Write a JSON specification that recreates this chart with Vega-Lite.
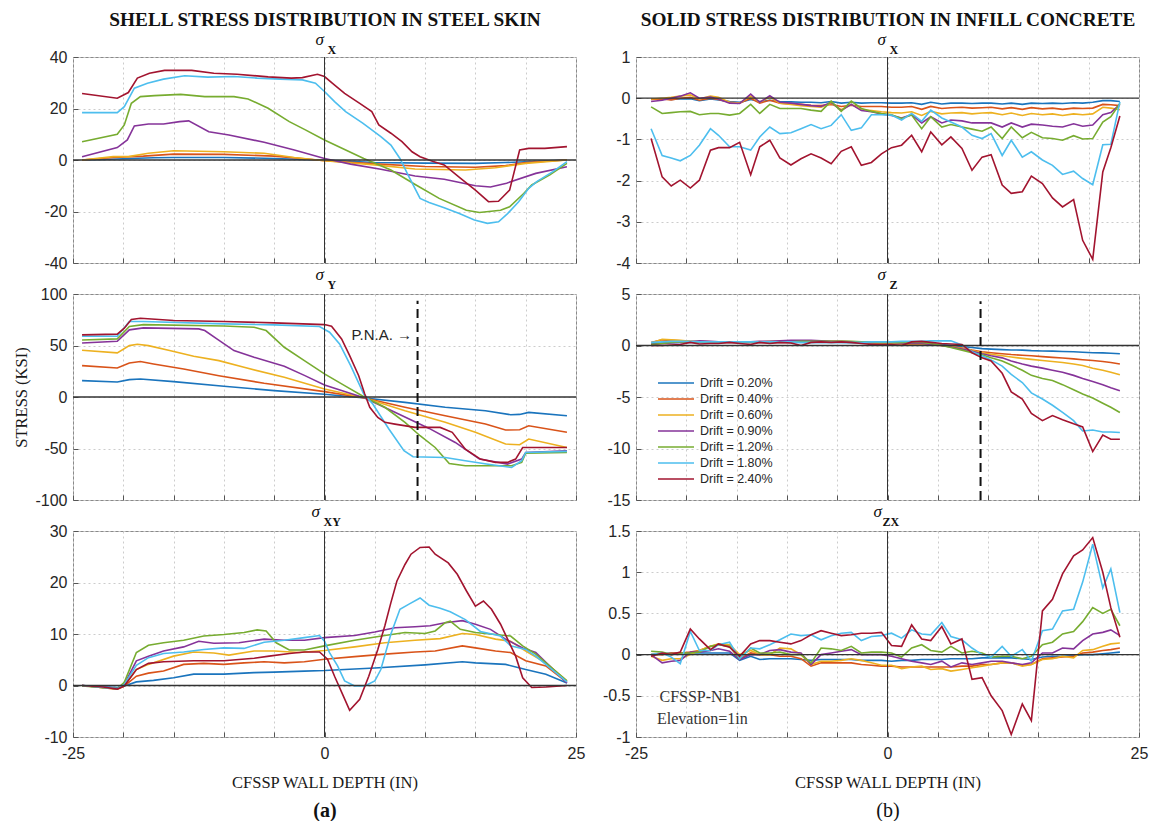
{
"$schema": "https://vega.github.io/schema/vega-lite/v6.json",
"padding": {"left": 13, "top": 9, "right": 2, "bottom": 0},
"background": "white",
"columns": 2,
"spacing": {"row": 31, "column": 60},
"bounds": "flush",
"resolve": {"scale": {"color": "independent"}, "legend": {"color": "independent"}},
"datasets": {
"lsx": [
{"s":"Drift = 0.20%","x":[-24.1,-22,-20,-17,-15,-10,-5,-2,0,3,5,10,15,18,21,24.1],"y":[0,0.2,0.5,0.9,1,1,0.6,0.2,0,-0.6,-1,-1.2,-1.3,-1,-0.5,0]},
{"s":"Drift = 0.40%","x":[-24.1,-21,-18,-15,-10,-5,-2,0,3,5,10,15,18,20,24.1],"y":[0,1,1.5,2.3,2.2,1.5,0.5,-0.3,-1,-1.5,-2.5,-2.8,-2.2,-1,0]},
{"s":"Drift = 0.60%","x":[-24.1,-21,-19.5,-17.5,-15,-10,-6,-3,0,5,9,14,17,20,24.1],"y":[0,1.3,1.3,2.6,3.6,3.2,2.6,1,-0.3,-1.9,-3.5,-3.9,-3,-1.3,0]},
{"s":"Drift = 0.90%","x":[-24.1,-20.6,-19.6,-18.9,-17.5,-16,-14.4,-13.5,-11.5,-9.5,-6,-3,0,2.6,5.6,9,11.9,15,16.5,18.1,21,24.1],"y":[1.3,4.8,7.8,13.2,14,14,14.9,15.2,11,9.7,6.9,3.9,0.6,-1.6,-3.6,-6.2,-7.5,-10,-10.5,-9,-5.2,-2.6]},
{"s":"Drift = 1.20%","x":[-24.1,-20.6,-19.9,-19.2,-18.3,-16.9,-14.3,-11.9,-9,-7.6,-5.6,-3.5,-1.9,0,3.9,6.6,9.1,11.4,14.1,15.4,17.5,18.4,19.8,20.6,22.4,24.1],"y":[7.1,10,13.6,22,24.6,25,25.5,24.6,24.6,23.7,20.1,14.9,11.7,7.8,0.6,-3.9,-9.7,-14.9,-19.5,-20.4,-19.5,-18.2,-13,-9.7,-5.8,-1.3]},
{"s":"Drift = 1.80%","x":[-24.1,-20.6,-19.9,-18.9,-17.6,-16,-13.9,-11.6,-9,-6.7,-4.4,-2.2,-0.9,0,1,2.1,3.8,5.6,6.6,7.5,8.3,9.5,10.4,11.9,13.4,14.9,16.2,17.3,18.2,19.3,20.3,21.1,22.7,24.1],"y":[18.4,18.4,20.7,27.9,29.8,31.4,32.7,32.2,32.4,31.8,31.4,31.1,29.8,26.6,22.7,18.8,14.3,9.1,5.8,0.6,-5.8,-14.9,-16.5,-18.5,-20.8,-23.3,-24.6,-24,-20.8,-16.2,-11,-8.4,-4.5,-0.6]},
{"s":"Drift = 2.40%","x":[-24.1,-20.6,-19.5,-18.6,-17.4,-15.9,-13.2,-11,-8.7,-5.6,-3.3,-2.2,-0.7,0,0.8,2,3.5,4.7,5.4,6.6,7.7,8.7,9.5,10.8,11.9,13.5,15,16.3,17.3,18.4,19.4,20.3,21.9,24.1],"y":[25.8,24,26.2,31.8,33.7,34.8,34.8,33.7,33.3,32.3,31.8,32,33.3,32.4,29.8,25.9,22,18.8,13.6,10.4,7.1,3.2,1.3,-0.6,-1.9,-7,-11.7,-16.2,-16,-11.7,3.9,4.5,4.5,5.2]}
],
"lsy": [
{"s":"Drift = 0.20%","x":[-24.1,-20.6,-19.4,-18.3,-15,-10,-5,0,4,8,12,16,18.5,19.4,20.3,24.1],"y":[15.9,14.6,16.9,17.5,14.9,10.4,6.2,2.6,-1,-5.2,-10,-13.3,-17.2,-16.9,-14.9,-18.2]},
{"s":"Drift = 0.40%","x":[-24.1,-20.6,-19.4,-18.3,-17,-14,-10.5,-6,0,4,8,12,16,18,19.4,20.3,24.1],"y":[30.5,28.2,33,34.4,32.1,27.2,20.7,13.3,5.2,-1,-10,-18.2,-26.3,-32.1,-31.8,-27.9,-34.3]},
{"s":"Drift = 0.60%","x":[-24.1,-20.6,-19.4,-18.6,-17.5,-15.4,-13,-10.5,-8,-4,0,4,8,12,15,18,19.4,20.3,24.1],"y":[45.4,42.8,49.9,51.2,49.9,45.1,39.5,35.3,28.8,19.1,7.8,-1,-13.3,-24.6,-34.3,-45.7,-46.3,-40.8,-49]},
{"s":"Drift = 0.90%","x":[-24.1,-20.6,-19.4,-18,-12.5,-11.9,-10.7,-9,-7,-4,-2,0,4,7,10.4,13,15.4,18.2,19.6,20,24.1],"y":[52.5,54.1,65.2,67.1,66.1,64.5,56.4,45.1,38.6,29.8,21,11.7,-1,-14.9,-30.5,-44.1,-60.3,-65.1,-60.3,-53.8,-52.2]},
{"s":"Drift = 1.20%","x":[-24.1,-20.6,-19.4,-18,-10,-7,-5.8,-4,-2,0,2,4,6,8,9.5,11,12.4,14,18.6,19.6,20,24.1],"y":[55.4,56.4,68.4,70.3,69,67.7,64.5,48.3,35.3,22.4,11,-0.3,-10,-24.6,-37.6,-49,-64.5,-66.8,-66.8,-63.5,-54.5,-53.8]},
{"s":"Drift = 1.80%","x":[-24.1,-20.6,-19.4,-18,-10,-5,-0.5,0.5,1.5,2.6,3.9,4.8,6.4,7.9,8.8,12,14,16.1,18.6,19.6,20,24.1],"y":[59,59,73.3,73.3,71,70,68.4,62.9,51.5,30.5,2.9,-6.8,-31.1,-52.2,-58,-58.7,-61.9,-65.1,-68.4,-61.9,-53.8,-52.8]},
{"s":"Drift = 2.40%","x":[-24.1,-20.6,-19.9,-19.2,-18.3,-15,-10,-5,0,0.7,1.7,2.5,3.4,4,4.5,5.3,6,7,9,11.5,12.7,14,15.5,17,18.2,19,19.7,24.1],"y":[60.3,61,66.8,75.2,76.5,74.2,73.3,72,70.3,68.7,56.4,40.2,20.7,2.9,-10,-19.8,-24.6,-26.3,-29.5,-29.5,-34.3,-50.6,-60.3,-63.5,-63.5,-60.3,-49,-49]}
],
"lsxy": [
{"s":"Drift = 0.20%","x":[-24.1,-20.6,-19.9,-18.7,-17,-15,-13,-10,-7,-5,-2,0,5,10,13.7,15,18,20,22,24.1],"y":[0,-0.4,-0.1,0.7,1,1.5,2.2,2.2,2.5,2.6,2.8,2.9,3.4,4,4.6,4.4,4.1,3.1,2.2,0.5]},
{"s":"Drift = 0.40%","x":[-24.1,-20.6,-19.9,-18.7,-17.5,-16,-14,-12,-10,-8,-6,-4,-2,0,3,6,9,11,13.7,15,17,18.5,20,22,24.1],"y":[0,-0.7,-0.1,1.8,2.4,2.8,4.1,4.3,4.1,4.4,4.6,4.4,4.6,5.1,5.6,6.1,6.5,6.7,7.7,7.3,6.7,6.4,4.8,3.8,0.6]},
{"s":"Drift = 0.60%","x":[-24.1,-20.6,-19.9,-18.7,-17.5,-15,-13,-11,-9.5,-7,-5,-2.5,0,3,6,9,11.5,13.7,15,17,18.5,20,22,24.1],"y":[0,-0.7,0,3.1,4.1,5.7,6.5,6.3,5.9,6.7,6.7,6.4,6.8,7.5,8.3,8.8,9.1,10.1,9.9,9,8.6,6.7,4.4,0.9]},
{"s":"Drift = 0.90%","x":[-24.1,-20.6,-19.9,-18.7,-17.5,-16,-14,-12.5,-11,-8.5,-6,-4,-2,0,3,5,7,9,10.5,12,13.7,15,16.5,18,19.7,21,24.1],"y":[0,-0.6,0.2,4.8,5.7,6.7,7.5,8.6,8.2,8.3,9,8.8,8.8,9.3,9.7,10.4,11.2,11.4,11.6,12.2,12.6,11.9,10.9,9,7.3,6.4,0.5]},
{"s":"Drift = 1.20%","x":[-24.1,-20.6,-19.9,-18.7,-17.5,-16,-14,-12,-10,-8,-6.7,-5.8,-4.8,-3.5,-2,0,3,6,8,10,11,12,12.5,13.5,15,17,18.5,19.7,21,24.1],"y":[-0.1,-0.6,0.6,6.4,7.8,8.3,8.8,9.6,9.9,10.3,10.8,10.6,8.3,6.9,6.9,7.7,8.8,9.7,10.3,10.1,10.6,12.2,12.5,10.9,10.3,9.9,9.6,7.7,6.1,0.9]},
{"s":"Drift = 1.80%","x":[-24.1,-20.6,-19.9,-18.7,-17.5,-16,-14,-12,-10,-8,-6,-4,-2,-0.5,0,0.5,1.3,2,3,4,5,5.6,6.6,7.5,8.4,9.5,10.4,11.5,12.5,14,15.5,17.5,18.5,20,21,24.1],"y":[0,-0.6,0.2,3.9,5.4,6.2,6.5,7,7.3,7.2,8.4,8.8,9.3,9.7,8.6,6.4,3.8,0.9,-0.1,-0.1,0.9,3.1,10,14.8,15.8,17,15.6,15,14.3,12.8,10.5,9.6,7.7,7,5.7,0.7]},
{"s":"Drift = 2.40%","x":[-24.1,-22,-20.6,-19.9,-18.7,-17.5,-16,-13,-10,-7,-5.5,-3.5,-2,-0.5,0.3,1,1.7,2.5,3.5,4.4,5.3,6,6.6,7.2,8,8.6,9.5,10.4,11,12.3,13.2,14.1,15,15.8,16.6,17.5,18.2,19,19.7,20.6,22,24.1],"y":[0,-0.3,-0.7,-0.1,3.1,4.3,4.6,4.8,4.8,5.3,5.7,6.2,6.5,6.5,5.1,1.8,-1.3,-4.8,-2.7,1.8,7,11.6,16.1,20.3,23.5,25.5,26.8,26.9,25.5,23.8,21.6,18.4,15.4,16.4,14.8,11.9,9,5.7,1.5,-0.4,-0.3,0]}
],
"rsx": [
{"s":"Drift = 0.20%","x":[-23.5,-22.4,-21.5,-20.6,-19.6,-18.7,-17.6,-16.8,-15.7,-14.7,-13.6,-12.7,-11.7,-10.7,-9.6,-8.6,-7.6,-6.6,-5.6,-4.6,-3.6,-2.6,-1.6,-0.6,0.4,1.4,2.4,3.4,4.3,5.4,6.3,7.4,8.4,9.4,10.3,11.4,12.3,13.4,14.3,15.4,16.4,17.4,18.5,19.4,20.4,21.4,22.2,23.1],"y":[-0.02,-0.01,-0.03,-0.02,-0.01,-0.06,-0.02,-0.04,-0.08,-0.1,-0.03,-0.08,-0.05,-0.08,-0.09,-0.1,-0.1,-0.11,-0.08,-0.12,-0.1,-0.12,-0.11,-0.11,-0.12,-0.12,-0.11,-0.15,-0.1,-0.14,-0.12,-0.12,-0.13,-0.12,-0.12,-0.14,-0.12,-0.15,-0.12,-0.13,-0.12,-0.13,-0.11,-0.12,-0.1,-0.06,-0.06,-0.08]},
{"s":"Drift = 0.40%","x":[-23.5,-22.4,-21.5,-20.6,-19.6,-18.7,-17.6,-16.8,-15.7,-14.7,-13.6,-12.7,-11.7,-10.7,-9.6,-8.6,-7.6,-6.6,-5.6,-4.6,-3.6,-2.6,-1.6,-0.6,0.4,1.4,2.4,3.4,4.3,5.4,6.3,7.4,8.4,9.4,10.3,11.4,12.3,13.4,14.3,15.4,16.4,17.4,18.5,19.4,20.4,21.4,22.2,23.1],"y":[-0.03,-0.02,-0.04,0,0.02,-0.05,0,-0.03,-0.1,-0.12,0,-0.12,-0.05,-0.12,-0.14,-0.15,-0.17,-0.18,-0.15,-0.2,-0.17,-0.2,-0.2,-0.2,-0.22,-0.22,-0.2,-0.27,-0.2,-0.25,-0.23,-0.22,-0.24,-0.23,-0.22,-0.26,-0.23,-0.27,-0.23,-0.26,-0.24,-0.27,-0.24,-0.25,-0.24,-0.15,-0.16,-0.18]},
{"s":"Drift = 0.60%","x":[-23.5,-22.4,-21.5,-20.6,-19.6,-18.7,-17.6,-16.8,-15.7,-14.7,-13.6,-12.7,-11.7,-10.7,-9.6,-8.6,-7.6,-6.6,-5.6,-4.6,-3.6,-2.6,-1.6,-0.6,0.4,1.4,2.4,3.4,4.3,5.4,6.3,7.4,8.4,9.4,10.3,11.4,12.3,13.4,14.3,15.4,16.4,17.4,18.5,19.4,20.4,21.4,22.2,23.1],"y":[-0.02,0,0.02,0.05,0.08,-0.02,0.05,0.02,-0.1,-0.12,0.05,-0.1,0.03,-0.12,-0.15,-0.18,-0.2,-0.22,-0.12,-0.28,-0.15,-0.28,-0.3,-0.33,-0.35,-0.36,-0.33,-0.42,-0.32,-0.38,-0.36,-0.35,-0.38,-0.36,-0.35,-0.4,-0.36,-0.42,-0.37,-0.4,-0.38,-0.42,-0.38,-0.4,-0.38,-0.22,-0.24,-0.28]},
{"s":"Drift = 0.90%","x":[-23.5,-22.4,-21.5,-20.6,-19.6,-18.7,-17.6,-16.8,-15.7,-14.7,-13.6,-12.7,-11.7,-10.7,-9.6,-8.6,-7.6,-6.6,-5.6,-4.6,-3.6,-2.6,-1.6,-0.6,0.4,1.4,2.4,3.4,4.3,5.4,6.3,7.4,8.4,9.4,10.3,11.4,12.3,13.4,14.3,15.4,16.4,17.4,18.5,19.4,20.4,21.4,22.2,23.1],"y":[-0.08,-0.05,0,0.05,0.13,0,0.03,-0.02,-0.12,-0.13,0.1,-0.1,0.06,-0.1,-0.12,-0.15,-0.18,-0.2,-0.1,-0.3,-0.15,-0.3,-0.33,-0.38,-0.42,-0.48,-0.4,-0.6,-0.45,-0.6,-0.53,-0.55,-0.6,-0.6,-0.6,-0.7,-0.6,-0.7,-0.63,-0.65,-0.68,-0.7,-0.62,-0.68,-0.65,-0.4,-0.35,-0.15]},
{"s":"Drift = 1.20%","x":[-23.5,-22.4,-21.5,-20.6,-19.6,-18.7,-17.6,-16.8,-15.7,-14.7,-13.6,-12.7,-11.7,-10.7,-9.6,-8.6,-7.6,-6.6,-5.6,-4.6,-3.6,-2.6,-1.6,-0.6,0.4,1.4,2.4,3.4,4.3,5.4,6.3,7.4,8.4,9.4,10.3,11.4,12.3,13.4,14.3,15.4,16.4,17.4,18.5,19.4,20.4,21.4,22.2,23.1],"y":[-0.21,-0.37,-0.35,-0.33,-0.32,-0.4,-0.37,-0.37,-0.41,-0.37,-0.15,-0.37,-0.15,-0.25,-0.25,-0.25,-0.29,-0.32,-0.07,-0.32,-0.07,-0.25,-0.32,-0.37,-0.4,-0.49,-0.41,-0.74,-0.45,-0.7,-0.64,-0.7,-0.75,-0.8,-0.7,-0.98,-0.7,-0.96,-0.83,-0.96,-0.98,-1.02,-0.91,-0.99,-0.98,-0.58,-0.45,-0.13]},
{"s":"Drift = 1.80%","x":[-23.5,-22.4,-21.5,-20.6,-19.6,-18.7,-17.6,-16.8,-15.7,-14.7,-13.6,-12.7,-11.7,-10.7,-9.6,-8.6,-7.6,-6.6,-5.6,-4.6,-3.6,-2.6,-1.6,-0.6,0.4,1.4,2.4,3.4,4.3,5.4,6.3,7.4,8.4,9.4,10.3,11.4,12.3,13.4,14.3,15.4,16.4,17.4,18.5,19.4,20.4,21.4,22.2,23.1],"y":[-0.74,-1.39,-1.45,-1.52,-1.39,-1.14,-0.74,-0.9,-1.18,-1.18,-1.26,-0.94,-0.7,-0.86,-0.84,-0.74,-0.64,-0.74,-0.66,-0.4,-0.78,-0.72,-0.4,-0.4,-0.41,-0.53,-0.37,-0.56,-0.29,-0.48,-0.58,-0.7,-0.9,-0.98,-0.86,-1.39,-1.02,-1.43,-1.3,-1.5,-1.63,-1.85,-1.77,-1.95,-2.1,-1.13,-1.12,-0.09]},
{"s":"Drift = 2.40%","x":[-23.5,-22.4,-21.5,-20.6,-19.6,-18.7,-17.6,-16.8,-15.7,-14.7,-13.6,-12.7,-11.7,-10.7,-9.6,-8.6,-7.6,-6.6,-5.6,-4.6,-3.6,-2.6,-1.6,-0.6,0.4,1.4,2.4,3.4,4.3,5.4,6.3,7.4,8.4,9.4,10.3,11.4,12.3,13.4,14.3,15.4,16.4,17.4,18.5,19.4,20.4,21.4,22.2,23.1],"y":[-0.98,-1.91,-2.13,-1.99,-2.18,-1.99,-1.26,-1.2,-1.2,-1.07,-1.86,-1.18,-1.02,-1.45,-1.62,-1.47,-1.35,-1.45,-1.59,-1.29,-1.18,-1.63,-1.56,-1.35,-1.2,-1.14,-0.9,-1.3,-0.82,-1.13,-0.94,-1.22,-1.75,-1.43,-1.37,-2.11,-2.31,-2.27,-1.89,-2.07,-2.42,-2.64,-2.46,-3.45,-3.91,-1.79,-1.2,-0.43]}
],
"rsz": [
{"s":"Drift = 0.20%","x":[-23.5,-22.4,-21.5,-20.6,-19.6,-18.7,-17.6,-16.8,-15.7,-14.7,-13.6,-12.7,-11.7,-10.7,-9.6,-8.6,-7.6,-6.6,-5.6,-4.6,-3.6,-2.6,-1.6,-0.6,0.4,1.4,2.4,3.4,4.3,5.4,6.3,7.4,8.4,9.4,10.3,11.4,12.3,13.4,14.3,15.4,16.4,17.4,18.5,19.4,20.4,21.4,22.2,23.1],"y":[0.2,0.25,0.3,0.3,0.3,0.3,0.3,0.3,0.3,0.3,0.3,0.3,0.3,0.3,0.3,0.3,0.3,0.3,0.3,0.3,0.28,0.25,0.22,0.2,0.2,0.2,0.2,0.18,0.15,0.1,0,-0.1,-0.2,-0.3,-0.35,-0.4,-0.43,-0.45,-0.5,-0.53,-0.55,-0.58,-0.6,-0.65,-0.7,-0.72,-0.75,-0.8]},
{"s":"Drift = 0.40%","x":[-23.5,-22.4,-21.5,-20.6,-19.6,-18.7,-17.6,-16.8,-15.7,-14.7,-13.6,-12.7,-11.7,-10.7,-9.6,-8.6,-7.6,-6.6,-5.6,-4.6,-3.6,-2.6,-1.6,-0.6,0.4,1.4,2.4,3.4,4.3,5.4,6.3,7.4,8.4,9.4,10.3,11.4,12.3,13.4,14.3,15.4,16.4,17.4,18.5,19.4,20.4,21.4,22.2,23.1],"y":[0.3,0.55,0.5,0.45,0.4,0.35,0.3,0.3,0.3,0.3,0.3,0.3,0.3,0.3,0.3,0.35,0.35,0.35,0.35,0.35,0.3,0.3,0.25,0.2,0.2,0.15,0.1,0.1,0.05,0,-0.1,-0.25,-0.45,-0.6,-0.7,-0.8,-0.88,-0.95,-1,-1.08,-1.15,-1.22,-1.3,-1.38,-1.45,-1.55,-1.65,-1.8]},
{"s":"Drift = 0.60%","x":[-23.5,-22.4,-21.5,-20.6,-19.6,-18.7,-17.6,-16.8,-15.7,-14.7,-13.6,-12.7,-11.7,-10.7,-9.6,-8.6,-7.6,-6.6,-5.6,-4.6,-3.6,-2.6,-1.6,-0.6,0.4,1.4,2.4,3.4,4.3,5.4,6.3,7.4,8.4,9.4,10.3,11.4,12.3,13.4,14.3,15.4,16.4,17.4,18.5,19.4,20.4,21.4,22.2,23.1],"y":[0.25,0.6,0.55,0.5,0.4,0.4,0.35,0.35,0.35,0.35,0.35,0.35,0.4,0.4,0.4,0.4,0.4,0.4,0.4,0.4,0.35,0.3,0.3,0.25,0.25,0.2,0.15,0.15,0.1,0,-0.1,-0.3,-0.5,-0.7,-0.85,-1,-1.12,-1.25,-1.35,-1.45,-1.55,-1.65,-1.8,-1.95,-2.2,-2.4,-2.6,-2.85]},
{"s":"Drift = 0.90%","x":[-23.5,-22.4,-21.5,-20.6,-19.6,-18.7,-17.6,-16.8,-15.7,-14.7,-13.6,-12.7,-11.7,-10.7,-9.6,-8.6,-7.6,-6.6,-5.6,-4.6,-3.6,-2.6,-1.6,-0.6,0.4,1.4,2.4,3.4,4.3,5.4,6.3,7.4,8.4,9.4,10.3,11.4,12.3,13.4,14.3,15.4,16.4,17.4,18.5,19.4,20.4,21.4,22.2,23.1],"y":[0.1,0.2,0.25,0.3,0.35,0.45,0.4,0.35,0.35,0.35,0.35,0.4,0.4,0.45,0.5,0.5,0.5,0.45,0.4,0.4,0.35,0.35,0.3,0.3,0.3,0.25,0.2,0.2,0.1,0,-0.15,-0.35,-0.55,-0.8,-1,-1.2,-1.5,-1.8,-2,-2.2,-2.4,-2.6,-2.9,-3.2,-3.5,-3.8,-4.1,-4.4]},
{"s":"Drift = 1.20%","x":[-23.5,-22.4,-21.5,-20.6,-19.6,-18.7,-17.6,-16.8,-15.7,-14.7,-13.6,-12.7,-11.7,-10.7,-9.6,-8.6,-7.6,-6.6,-5.6,-4.6,-3.6,-2.6,-1.6,-0.6,0.4,1.4,2.4,3.4,4.3,5.4,6.3,7.4,8.4,9.4,10.3,11.4,12.3,13.4,14.3,15.4,16.4,17.4,18.5,19.4,20.4,21.4,22.2,23.1],"y":[0.1,0.2,0.3,0.35,0.35,0.35,0.35,0.35,0.35,0.35,0.35,0.35,0.35,0.35,0.35,0.4,0.4,0.4,0.4,0.4,0.4,0.35,0.35,0.3,0.3,0.3,0.3,0.3,0.2,0,-0.2,-0.45,-0.7,-0.9,-1.2,-1.5,-1.9,-2.4,-2.9,-3.2,-3.4,-3.8,-4.3,-4.7,-5.1,-5.6,-6,-6.5]},
{"s":"Drift = 1.80%","x":[-23.5,-22.4,-21.5,-20.6,-19.6,-18.7,-17.6,-16.8,-15.7,-14.7,-13.6,-12.7,-11.7,-10.7,-9.6,-8.6,-7.6,-6.6,-5.6,-4.6,-3.6,-2.6,-1.6,-0.6,0.4,1.4,2.4,3.4,4.3,5.4,6.3,7.4,8.4,9.4,10.3,11.4,12.3,13.4,14.3,15.4,16.4,17.4,18.5,19.4,20.4,21.4,22.2,23.1],"y":[0.3,0.35,0.4,0.4,0.4,0.35,0.35,0.35,0.35,0.35,0.35,0.35,0.35,0.35,0.35,0.3,0.3,0.3,0.3,0.3,0.3,0.3,0.35,0.35,0.35,0.4,0.4,0.4,0.45,0.45,0.45,0.05,-0.6,-1,-1.4,-2,-2.8,-3.6,-4.6,-5.2,-5.8,-6.5,-7.3,-8.3,-8.2,-8.4,-8.4,-8.45]},
{"s":"Drift = 2.40%","x":[-23.5,-22.4,-21.5,-20.6,-19.6,-18.7,-17.6,-16.8,-15.7,-14.7,-13.6,-12.7,-11.7,-10.7,-9.6,-8.6,-7.6,-6.6,-5.6,-4.6,-3.6,-2.6,-1.6,-0.6,0.4,1.4,2.4,3.4,4.3,5.4,6.3,7.4,8.4,9.4,10.3,11.4,12.3,13.4,14.3,15.4,16.4,17.4,18.5,19.4,20.4,21.4,22.2,23.1],"y":[0,0,0.05,0.1,0.3,0.15,0.2,0.2,0.3,0.2,0.1,0.3,0.2,0.3,0.25,0,0.3,0.35,0.3,0.35,0.3,0.2,0.1,0.1,0.1,0,0.35,0.4,0.3,0.2,0.15,0.1,-0.7,-1.2,-1.5,-2.7,-4.5,-5.2,-6.6,-7.3,-6.8,-7.2,-7.6,-7.9,-10.3,-8.7,-9.1,-9.1]}
],
"rszx": [
{"s":"Drift = 0.20%","x":[-23.5,-22.4,-21.5,-20.6,-19.6,-18.7,-17.6,-16.8,-15.7,-14.7,-13.6,-12.7,-11.7,-10.7,-9.6,-8.6,-7.6,-6.6,-5.6,-4.6,-3.6,-2.6,-1.6,-0.6,0.4,1.4,2.4,3.4,4.3,5.4,6.3,7.4,8.4,9.4,10.3,11.4,12.3,13.4,14.3,15.4,16.4,17.4,18.5,19.4,20.4,21.4,22.2,23.1],"y":[0,0.01,0.02,0.02,0.02,0.02,0.02,0.02,0.02,-0.07,-0.02,-0.06,-0.05,-0.05,-0.05,-0.06,-0.07,-0.06,-0.06,-0.06,-0.06,-0.07,-0.07,-0.07,-0.08,-0.07,-0.07,-0.06,-0.06,-0.06,-0.05,-0.05,-0.05,-0.04,-0.04,-0.04,-0.04,-0.05,-0.06,-0.03,-0.02,-0.02,-0.01,0,0,0.01,0.02,0.03]},
{"s":"Drift = 0.40%","x":[-23.5,-22.4,-21.5,-20.6,-19.6,-18.7,-17.6,-16.8,-15.7,-14.7,-13.6,-12.7,-11.7,-10.7,-9.6,-8.6,-7.6,-6.6,-5.6,-4.6,-3.6,-2.6,-1.6,-0.6,0.4,1.4,2.4,3.4,4.3,5.4,6.3,7.4,8.4,9.4,10.3,11.4,12.3,13.4,14.3,15.4,16.4,17.4,18.5,19.4,20.4,21.4,22.2,23.1],"y":[0,0,0.02,0.02,0.03,0.05,0.1,0.12,0.1,-0.05,0.02,0,0,-0.02,-0.02,-0.05,-0.14,-0.1,-0.1,-0.1,-0.1,-0.12,-0.13,-0.14,-0.14,-0.15,-0.15,-0.15,-0.15,-0.15,-0.15,-0.14,-0.14,-0.12,-0.12,-0.1,-0.1,-0.13,-0.12,-0.05,-0.04,-0.03,-0.02,0.02,0.03,0.05,0.06,0.08]},
{"s":"Drift = 0.60%","x":[-23.5,-22.4,-21.5,-20.6,-19.6,-18.7,-17.6,-16.8,-15.7,-14.7,-13.6,-12.7,-11.7,-10.7,-9.6,-8.6,-7.6,-6.6,-5.6,-4.6,-3.6,-2.6,-1.6,-0.6,0.4,1.4,2.4,3.4,4.3,5.4,6.3,7.4,8.4,9.4,10.3,11.4,12.3,13.4,14.3,15.4,16.4,17.4,18.5,19.4,20.4,21.4,22.2,23.1],"y":[-0.02,-0.07,-0.05,-0.05,0,0.05,0.1,0.13,0.12,0,0.05,0,0,0.08,0.07,0,-0.12,-0.08,-0.08,-0.07,-0.05,-0.07,-0.1,-0.13,-0.13,-0.17,-0.15,-0.14,-0.18,-0.17,-0.2,-0.18,-0.16,-0.14,-0.12,-0.1,-0.1,-0.14,-0.12,-0.06,-0.05,-0.02,-0.04,0.05,0.06,0.1,0.13,0.14]},
{"s":"Drift = 0.90%","x":[-23.5,-22.4,-21.5,-20.6,-19.6,-18.7,-17.6,-16.8,-15.7,-14.7,-13.6,-12.7,-11.7,-10.7,-9.6,-8.6,-7.6,-6.6,-5.6,-4.6,-3.6,-2.6,-1.6,-0.6,0.4,1.4,2.4,3.4,4.3,5.4,6.3,7.4,8.4,9.4,10.3,11.4,12.3,13.4,14.3,15.4,16.4,17.4,18.5,19.4,20.4,21.4,22.2,23.1],"y":[0,-0.1,-0.08,-0.07,0.03,0.03,0.05,0.07,0.04,-0.06,0,0,0.05,0.06,0.03,0.02,-0.12,0,0.02,0.04,0.06,0,0,0,-0.02,-0.05,-0.08,-0.1,-0.12,-0.08,-0.15,-0.1,-0.12,-0.1,-0.08,-0.08,-0.1,-0.12,-0.1,0.02,0.02,0.08,0.07,0.17,0.25,0.27,0.3,0.23]},
{"s":"Drift = 1.20%","x":[-23.5,-22.4,-21.5,-20.6,-19.6,-18.7,-17.6,-16.8,-15.7,-14.7,-13.6,-12.7,-11.7,-10.7,-9.6,-8.6,-7.6,-6.6,-5.6,-4.6,-3.6,-2.6,-1.6,-0.6,0.4,1.4,2.4,3.4,4.3,5.4,6.3,7.4,8.4,9.4,10.3,11.4,12.3,13.4,14.3,15.4,16.4,17.4,18.5,19.4,20.4,21.4,22.2,23.1],"y":[0.04,0.03,0,0.02,0.02,0.03,0.1,0.12,0.1,-0.05,0.08,0.02,0.02,0.03,0,0,-0.1,0.08,0.07,0.05,0.1,0.02,0.03,0.03,0.02,-0.03,0.08,0.12,0.05,0.03,0.1,0.02,0.04,0.02,-0.03,-0.02,-0.02,-0.05,-0.02,0.12,0.15,0.25,0.28,0.4,0.57,0.5,0.55,0.35]},
{"s":"Drift = 1.80%","x":[-23.5,-22.4,-21.5,-20.6,-19.6,-18.7,-17.6,-16.8,-15.7,-14.7,-13.6,-12.7,-11.7,-10.7,-9.6,-8.6,-7.6,-6.6,-5.6,-4.6,-3.6,-2.6,-1.6,-0.6,0.4,1.4,2.4,3.4,4.3,5.4,6.3,7.4,8.4,9.4,10.3,11.4,12.3,13.4,14.3,15.4,16.4,17.4,18.5,19.4,20.4,21.4,22.2,23.1],"y":[0,0.02,-0.03,-0.11,0.28,0.05,0.05,0.12,0.15,-0.05,0.08,0.07,0.12,0.18,0.25,0.23,0.24,0.18,0.23,0.26,0.27,0.17,0.22,0.23,0.26,0.2,0.3,0.25,0.24,0.39,0.22,0.18,0.08,0,-0.03,0.1,-0.02,0.06,-0.08,0.29,0.31,0.53,0.55,0.88,1.34,0.81,1.04,0.51]},
{"s":"Drift = 2.40%","x":[-23.5,-22.4,-21.5,-20.6,-19.6,-18.7,-17.6,-16.8,-15.7,-14.7,-13.6,-12.7,-11.7,-10.7,-9.6,-8.6,-7.6,-6.6,-5.6,-4.6,-3.6,-2.6,-1.6,-0.6,0.4,1.4,2.4,3.4,4.3,5.4,6.3,7.4,8.4,9.4,10.3,11.4,12.3,13.4,14.3,15.4,16.4,17.4,18.5,19.4,20.4,21.4,22.2,23.1],"y":[-0.02,0.02,0,0.03,0.31,0.19,0.06,0.13,0.09,-0.02,0.13,0.17,0.17,0.15,0.13,0.17,0.24,0.29,0.26,0.23,0.24,0.26,0.26,0.27,0.11,0.1,0.36,0.19,0.17,0.34,0.13,0.19,-0.3,-0.28,-0.5,-0.68,-0.97,-0.6,-0.8,0.53,0.67,0.98,1.2,1.27,1.42,1,0.57,0.21]}
]
},
"concat": [
{
"width": 503, "height": 206,
"title": {"text": "σ", "subtitle": "\u200b\u00a0\u00a0\u00a0\u00a0X", "align": "left", "anchor": "middle", "frame": "group", "dx": -9, "offset": -47, "font": "Liberation Serif", "fontStyle": "italic", "fontWeight": "normal", "fontSize": 17, "subtitleFont": "Liberation Serif", "subtitleFontWeight": "bold", "subtitleFontStyle": "normal", "subtitleFontSize": 12, "subtitlePadding": -4, "color": "#111111", "subtitleColor": "#111111"},
"resolve": {"axis": {"x": "independent"}},
"layer": [
{"data": {"name": "lsx"}, "transform": [{"flatten": ["x", "y"]}], "mark": {"type": "line", "strokeWidth": 1.6},
"encoding": {
"x": {"field": "x", "type": "quantitative", "scale": {"domain": [-25, 25], "nice": false, "zero": false}, "axis": {"values": [-25,-20,-15,-10,-5,0,5,10,15,20,25], "labels": false, "title": null}},
"y": {"field": "y", "type": "quantitative", "scale": {"domain": [-40, 40], "nice": false, "zero": false}, "axis": {"values": [-40,-20,0,20,40], "labelExpr": "'' + datum.value", "title": null}},
"color": {"field": "s", "type": "nominal", "scale": {"domain": ["Drift = 0.20%","Drift = 0.40%","Drift = 0.60%","Drift = 0.90%","Drift = 1.20%","Drift = 1.80%","Drift = 2.40%"], "range": ["#1a74bd","#d95319","#edb120","#853399","#77ac30","#4dbeee","#a2142f"]}, "legend": null}}},
{"data": {"values": [{}]}, "mark": {"type": "rule", "color": "#333333", "strokeWidth": 1.3}, "encoding": {"y": {"datum": 0}}},
{"data": {"values": [{}]}, "mark": {"type": "rule", "color": "#333333", "strokeWidth": 1}, "encoding": {"x": {"datum": 0, "axis": {"orient": "top", "title": "SHELL STRESS DISTRIBUTION IN STEEL SKIN", "labels": false, "ticks": false, "grid": false, "domain": false, "titleFont": "Liberation Serif", "titleFontSize": 19.3, "titleFontWeight": "bold", "titleColor": "#111111", "titleY": -32, "titleBaseline": "alphabetic"}}}}
]
},
{
"width": 503, "height": 206,
"title": {"text": "σ", "subtitle": "\u200b\u00a0\u00a0\u00a0\u00a0X", "align": "left", "anchor": "middle", "frame": "group", "dx": -10, "offset": -47, "font": "Liberation Serif", "fontStyle": "italic", "fontWeight": "normal", "fontSize": 17, "subtitleFont": "Liberation Serif", "subtitleFontWeight": "bold", "subtitleFontStyle": "normal", "subtitleFontSize": 12, "subtitlePadding": -4, "color": "#111111", "subtitleColor": "#111111"},
"resolve": {"axis": {"x": "independent"}},
"layer": [
{"data": {"name": "rsx"}, "transform": [{"flatten": ["x", "y"]}], "mark": {"type": "line", "strokeWidth": 1.6},
"encoding": {
"x": {"field": "x", "type": "quantitative", "scale": {"domain": [-25, 25], "nice": false, "zero": false}, "axis": {"values": [-25,-20,-15,-10,-5,0,5,10,15,20,25], "labels": false, "title": null}},
"y": {"field": "y", "type": "quantitative", "scale": {"domain": [-4, 1], "nice": false, "zero": false}, "axis": {"values": [-4,-3,-2,-1,0,1], "labelExpr": "'' + datum.value", "title": null}},
"color": {"field": "s", "type": "nominal", "scale": {"domain": ["Drift = 0.20%","Drift = 0.40%","Drift = 0.60%","Drift = 0.90%","Drift = 1.20%","Drift = 1.80%","Drift = 2.40%"], "range": ["#1a74bd","#d95319","#edb120","#853399","#77ac30","#4dbeee","#a2142f"]}, "legend": null}}},
{"data": {"values": [{}]}, "mark": {"type": "rule", "color": "#333333", "strokeWidth": 1.3}, "encoding": {"y": {"datum": 0}}},
{"data": {"values": [{}]}, "mark": {"type": "rule", "color": "#333333", "strokeWidth": 1}, "encoding": {"x": {"datum": 0, "axis": {"orient": "top", "title": "SOLID STRESS DISTRIBUTION IN INFILL CONCRETE", "labels": false, "ticks": false, "grid": false, "domain": false, "titleFont": "Liberation Serif", "titleFontSize": 19.3, "titleFontWeight": "bold", "titleColor": "#111111", "titleY": -32, "titleBaseline": "alphabetic"}}}}
]
},
{
"width": 503, "height": 206,
"title": {"text": "σ", "subtitle": "\u200b\u00a0\u00a0\u00a0\u00a0Y", "align": "left", "anchor": "middle", "frame": "group", "dx": -9, "offset": -6, "font": "Liberation Serif", "fontStyle": "italic", "fontWeight": "normal", "fontSize": 17, "subtitleFont": "Liberation Serif", "subtitleFontWeight": "bold", "subtitleFontStyle": "normal", "subtitleFontSize": 12, "subtitlePadding": -4, "color": "#111111", "subtitleColor": "#111111"},
"layer": [
{"data": {"name": "lsy"}, "transform": [{"flatten": ["x", "y"]}], "mark": {"type": "line", "strokeWidth": 1.6},
"encoding": {
"x": {"field": "x", "type": "quantitative", "scale": {"domain": [-25, 25], "nice": false, "zero": false}, "axis": {"values": [-25,-20,-15,-10,-5,0,5,10,15,20,25], "labels": false, "title": null}},
"y": {"field": "y", "type": "quantitative", "scale": {"domain": [-100, 100], "nice": false, "zero": false}, "axis": {"values": [-100,-50,0,50,100], "labelExpr": "'' + datum.value", "title": "STRESS (KSI)", "titleFontSize": 16.5}},
"color": {"field": "s", "type": "nominal", "scale": {"domain": ["Drift = 0.20%","Drift = 0.40%","Drift = 0.60%","Drift = 0.90%","Drift = 1.20%","Drift = 1.80%","Drift = 2.40%"], "range": ["#1a74bd","#d95319","#edb120","#853399","#77ac30","#4dbeee","#a2142f"]}, "legend": null}}},
{"data": {"values": [{}]}, "mark": {"type": "rule", "color": "#333333", "strokeWidth": 1.3}, "encoding": {"y": {"datum": 0}}},
{"data": {"values": [{}]}, "mark": {"type": "rule", "color": "#333333", "strokeWidth": 1}, "encoding": {"x": {"datum": 0}}},
{"data": {"values": [{"x": 9.25, "y": -100, "y2": 93.5}]}, "mark": {"type": "rule", "color": "#111111", "strokeWidth": 2, "strokeDash": [9, 5]}, "encoding": {"x": {"field": "x", "type": "quantitative"}, "y": {"field": "y", "type": "quantitative"}, "y2": {"field": "y2"}}},
{"data": {"values": [{"x": 8.7, "y": 60.3, "t": "P.N.A. →"}]}, "mark": {"type": "text", "font": "Liberation Sans", "fontSize": 15, "color": "#262626", "align": "right", "baseline": "middle"}, "encoding": {"x": {"field": "x", "type": "quantitative"}, "y": {"field": "y", "type": "quantitative"}, "text": {"field": "t"}}}
]
},
{
"width": 503, "height": 206,
"title": {"text": "σ", "subtitle": "\u200b\u00a0\u00a0\u00a0\u00a0Z", "align": "left", "anchor": "middle", "frame": "group", "dx": -10, "offset": -6, "font": "Liberation Serif", "fontStyle": "italic", "fontWeight": "normal", "fontSize": 17, "subtitleFont": "Liberation Serif", "subtitleFontWeight": "bold", "subtitleFontStyle": "normal", "subtitleFontSize": 12, "subtitlePadding": -4, "color": "#111111", "subtitleColor": "#111111"},
"layer": [
{"data": {"name": "rsz"}, "transform": [{"flatten": ["x", "y"]}], "mark": {"type": "line", "strokeWidth": 1.6},
"encoding": {
"x": {"field": "x", "type": "quantitative", "scale": {"domain": [-25, 25], "nice": false, "zero": false}, "axis": {"values": [-25,-20,-15,-10,-5,0,5,10,15,20,25], "labels": false, "title": null}},
"y": {"field": "y", "type": "quantitative", "scale": {"domain": [-15, 5], "nice": false, "zero": false}, "axis": {"values": [-15,-10,-5,0,5], "labelExpr": "'' + datum.value", "title": null}},
"color": {"field": "s", "type": "nominal", "scale": {"domain": ["Drift = 0.20%","Drift = 0.40%","Drift = 0.60%","Drift = 0.90%","Drift = 1.20%","Drift = 1.80%","Drift = 2.40%"], "range": ["#1a74bd","#d95319","#edb120","#853399","#77ac30","#4dbeee","#a2142f"]},
"legend": {"orient": "none", "legendX": 33, "legendY": 82, "title": null, "symbolType": "M-3,0H3", "symbolSize": 144, "symbolStrokeWidth": 1.6, "labelFont": "Liberation Sans", "labelFontSize": 12.5, "labelColor": "#262626", "labelOffset": 17, "rowPadding": 2, "padding": 0}}}},
{"data": {"values": [{}]}, "mark": {"type": "rule", "color": "#333333", "strokeWidth": 1.3}, "encoding": {"y": {"datum": 0}}},
{"data": {"values": [{}]}, "mark": {"type": "rule", "color": "#333333", "strokeWidth": 1}, "encoding": {"x": {"datum": 0}}},
{"data": {"values": [{"x": 9.25, "y": -15, "y2": 4.3}]}, "mark": {"type": "rule", "color": "#111111", "strokeWidth": 2, "strokeDash": [9, 5]}, "encoding": {"x": {"field": "x", "type": "quantitative"}, "y": {"field": "y", "type": "quantitative"}, "y2": {"field": "y2"}}}
]
},
{
"width": 503, "height": 206,
"title": {"text": "σ", "subtitle": "\u200b\u00a0\u00a0\u00a0\u00a0XY", "align": "left", "anchor": "middle", "frame": "group", "dx": -13, "offset": -6, "font": "Liberation Serif", "fontStyle": "italic", "fontWeight": "normal", "fontSize": 17, "subtitleFont": "Liberation Serif", "subtitleFontWeight": "bold", "subtitleFontStyle": "normal", "subtitleFontSize": 12, "subtitlePadding": -4, "color": "#111111", "subtitleColor": "#111111"},
"resolve": {"axis": {"x": "independent"}},
"layer": [
{"data": {"name": "lsxy"}, "transform": [{"flatten": ["x", "y"]}], "mark": {"type": "line", "strokeWidth": 1.6},
"encoding": {
"x": {"field": "x", "type": "quantitative", "scale": {"domain": [-25, 25], "nice": false, "zero": false}, "axis": {"values": [-25,-20,-15,-10,-5,0,5,10,15,20,25], "labelExpr": "datum.value % 25 == 0 ? '' + datum.value : ''", "title": "CFSSP WALL DEPTH (IN)", "titleFontSize": 16.5}},
"y": {"field": "y", "type": "quantitative", "scale": {"domain": [-10, 30], "nice": false, "zero": false}, "axis": {"values": [-10,0,10,20,30], "labelExpr": "'' + datum.value", "title": null}},
"color": {"field": "s", "type": "nominal", "scale": {"domain": ["Drift = 0.20%","Drift = 0.40%","Drift = 0.60%","Drift = 0.90%","Drift = 1.20%","Drift = 1.80%","Drift = 2.40%"], "range": ["#1a74bd","#d95319","#edb120","#853399","#77ac30","#4dbeee","#a2142f"]}, "legend": null}}},
{"data": {"values": [{}]}, "mark": {"type": "rule", "color": "#333333", "strokeWidth": 1.3}, "encoding": {"y": {"datum": 0}}},
{"data": {"values": [{}]}, "mark": {"type": "rule", "color": "#333333", "strokeWidth": 1}, "encoding": {"x": {"datum": 0, "axis": {"orient": "bottom", "title": "(a)", "labels": false, "ticks": false, "grid": false, "domain": false, "titleFont": "Liberation Serif", "titleFontSize": 20, "titleFontWeight": "bold", "titleColor": "#111111", "titlePadding": 63}}}}
]
},
{
"width": 503, "height": 206,
"title": {"text": "σ", "subtitle": "\u200b\u00a0\u00a0\u00a0ZX", "align": "left", "anchor": "middle", "frame": "group", "dx": -14, "offset": -6, "font": "Liberation Serif", "fontStyle": "italic", "fontWeight": "normal", "fontSize": 17, "subtitleFont": "Liberation Serif", "subtitleFontWeight": "bold", "subtitleFontStyle": "normal", "subtitleFontSize": 12, "subtitlePadding": -4, "color": "#111111", "subtitleColor": "#111111"},
"resolve": {"axis": {"x": "independent"}},
"layer": [
{"data": {"name": "rszx"}, "transform": [{"flatten": ["x", "y"]}], "mark": {"type": "line", "strokeWidth": 1.6},
"encoding": {
"x": {"field": "x", "type": "quantitative", "scale": {"domain": [-25, 25], "nice": false, "zero": false}, "axis": {"values": [-25,-20,-15,-10,-5,0,5,10,15,20,25], "labelExpr": "datum.value % 25 == 0 ? '' + datum.value : ''", "title": "CFSSP WALL DEPTH (IN)", "titleFontSize": 16.5}},
"y": {"field": "y", "type": "quantitative", "scale": {"domain": [-1, 1.5], "nice": false, "zero": false}, "axis": {"values": [-1,-0.5,0,0.5,1,1.5], "labelExpr": "'' + datum.value", "title": null}},
"color": {"field": "s", "type": "nominal", "scale": {"domain": ["Drift = 0.20%","Drift = 0.40%","Drift = 0.60%","Drift = 0.90%","Drift = 1.20%","Drift = 1.80%","Drift = 2.40%"], "range": ["#1a74bd","#d95319","#edb120","#853399","#77ac30","#4dbeee","#a2142f"]}, "legend": null}}},
{"data": {"values": [{}]}, "mark": {"type": "rule", "color": "#333333", "strokeWidth": 1.3}, "encoding": {"y": {"datum": 0}}},
{"data": {"values": [{}]}, "mark": {"type": "rule", "color": "#333333", "strokeWidth": 1}, "encoding": {"x": {"datum": 0, "axis": {"orient": "bottom", "title": "(b)", "labels": false, "ticks": false, "grid": false, "domain": false, "titleFont": "Liberation Serif", "titleFontSize": 20, "titleFontWeight": "normal", "titleColor": "#111111", "titlePadding": 63}}}},
{"data": {"values": [{"x": -18.6, "y": -0.52, "t": "CFSSP-NB1"}, {"x": -18.4, "y": -0.78, "t": "Elevation=1in"}]}, "mark": {"type": "text", "font": "Liberation Serif", "fontSize": 16, "color": "#333333", "align": "center", "baseline": "middle"}, "encoding": {"x": {"field": "x", "type": "quantitative", "axis": null}, "y": {"field": "y", "type": "quantitative"}, "text": {"field": "t"}}}
]
}
],
"config": {
"font": "Liberation Sans",
"view": {"stroke": "#8a8a8a", "strokeWidth": 1},
"axis": {"labelFont": "Liberation Sans", "labelFontSize": 16, "labelColor": "#262626", "labelFlush": false, "labelOverlap": false, "domain": false, "grid": true, "gridColor": "#cccccc", "gridDash": [2, 3], "gridWidth": 1, "ticks": true, "tickSize": -5, "tickColor": "#555555", "tickWidth": 1, "titleFont": "Liberation Serif", "titleFontSize": 16, "titleFontWeight": "normal", "titleColor": "#1a1a1a"},
"axisX": {"labelPadding": 13, "titlePadding": 13},
"axisY": {"labelPadding": 11, "titlePadding": 5},
"title": {"font": "Liberation Serif", "color": "#111111"}
}
}
